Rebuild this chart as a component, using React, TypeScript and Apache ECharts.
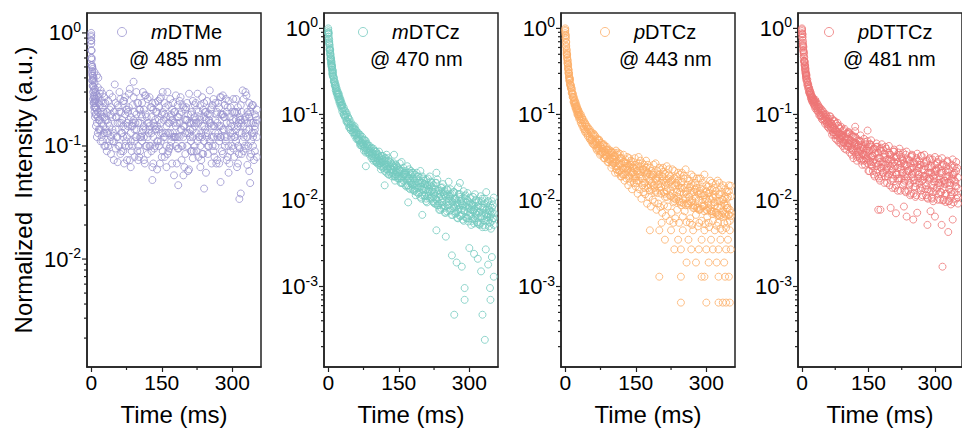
import React, { useEffect, useRef } from 'react';
import * as echarts from 'echarts';

const FONT = 'Liberation Sans, Arial, sans-serif';

const TIME = [
  0, 1, 2, 3, 4, 5, 6, 7, 8, 9,
  10, 12, 14, 16, 18, 20, 22, 24, 26, 28,
  30, 33, 36, 39, 42, 45, 48, 52, 56, 60,
  64, 68, 72, 76, 80, 84, 88, 92, 96, 100,
  104, 108, 112, 116, 120, 124, 128, 132, 136, 140,
  144, 148, 152, 156, 160, 164, 168, 172, 176, 180,
  184, 188, 192, 196, 200, 204, 208, 212, 216, 220,
  224, 228, 232, 236, 240, 244, 248, 252, 256, 260,
  264, 268, 272, 276, 280, 284, 288, 292, 296, 300,
  304, 308, 312, 316, 320, 324, 328, 332, 336, 340,
  344, 348, 352,
];
// second, interleaved set of read-out times (tail region)
const TIME_B = [
  54, 58, 62, 66, 70, 74, 78, 82, 86, 90,
  94, 98, 102, 106, 110, 114, 118, 122, 126, 130,
  134, 138, 142, 146, 150, 154, 158, 162, 166, 170,
  174, 178, 182, 186, 190, 194, 198, 202, 206, 210,
  214, 218, 222, 226, 230, 234, 238, 242, 246, 250,
  254, 258, 262, 266, 270, 274, 278, 282, 286, 290,
  294, 298, 302, 306, 310, 314, 318, 322, 326, 330,
  334, 338, 342, 346, 350,
];

const NAMES = ['mDTMe', 'mDTCz', 'pDTCz', 'pDTTCz'];
const WAVELENGTHS = ['@ 485 nm', '@ 470 nm', '@ 443 nm', '@ 481 nm'];
const COLORS = ['#9a94d0', '#74cbbf', '#fdae66', '#ee7676'];

// ---- mDTMe ----
const MDTME_A = [
  1.0, 0.7, 0.5, 0.42, 0.3, 0.33, 0.27, 0.36, 0.22, 0.3,
  0.19, 0.28, 0.13, 0.24, 0.17, 0.31, 0.12, 0.22, 0.15, 0.27,
  0.1, 0.2, 0.13, 0.29, 0.085, 0.18, 0.11, 0.24, 0.072, 0.16,
  0.2, 0.09, 0.27, 0.12, 0.17, 0.065, 0.23, 0.14, 0.3, 0.1,
  0.16, 0.24, 0.075, 0.19, 0.12, 0.27, 0.09, 0.21, 0.14, 0.062,
  0.22, 0.11, 0.3, 0.08, 0.18, 0.13, 0.26, 0.07, 0.2, 0.12,
  0.095, 0.25, 0.14, 0.055, 0.21, 0.1, 0.29, 0.16, 0.078, 0.23,
  0.13, 0.2, 0.065, 0.27, 0.11, 0.17, 0.085, 0.31, 0.15, 0.09,
  0.24, 0.12, 0.07, 0.19, 0.28, 0.1, 0.16, 0.058, 0.22, 0.13,
  0.08, 0.26, 0.15, 0.095, 0.2, 0.12, 0.3, 0.068, 0.18, 0.11,
  0.23, 0.09, 0.17,
];
const MDTME_B = [
  0.92, 0.6, 0.38, 0.48, 0.26, 0.4, 0.22, 0.28, 0.32, 0.19,
  0.26, 0.16, 0.33, 0.14, 0.23, 0.11, 0.2, 0.29, 0.13, 0.18,
  0.24, 0.09, 0.16, 0.21, 0.12, 0.27, 0.075, 0.14, 0.23, 0.1,
  0.13, 0.25, 0.1, 0.16, 0.29, 0.11, 0.15, 0.08, 0.19, 0.24,
  0.09, 0.13, 0.21, 0.1, 0.26, 0.15, 0.18, 0.07, 0.24, 0.11,
  0.14, 0.27, 0.09, 0.19, 0.065, 0.23, 0.1, 0.17, 0.12, 0.28,
  0.18, 0.12, 0.075, 0.22, 0.13, 0.17, 0.062, 0.11, 0.25, 0.15,
  0.21, 0.08, 0.17, 0.12, 0.24, 0.058, 0.19, 0.11, 0.07, 0.26,
  0.1, 0.2, 0.15, 0.27, 0.085, 0.18, 0.12, 0.25, 0.09, 0.17,
  0.2, 0.11, 0.07, 0.18, 0.13, 0.26, 0.095, 0.16, 0.06, 0.22,
  0.12, 0.19, 0.08,
];
const MDTME_C = [
  0.8, 0.52, 0.44, 0.34, 0.4, 0.24, 0.31, 0.2, 0.26, 0.24,
  0.15, 0.21, 0.18, 0.27, 0.14, 0.19, 0.25, 0.11, 0.2, 0.13,
  0.17, 0.13, 0.25, 0.11, 0.19, 0.14, 0.2, 0.095, 0.16, 0.3,
  0.09, 0.15, 0.19, 0.075, 0.22, 0.13, 0.1, 0.2, 0.12, 0.16,
  0.21, 0.11, 0.15, 0.28, 0.085, 0.14, 0.22, 0.12, 0.17, 0.2,
  0.1, 0.16, 0.13, 0.24, 0.15, 0.09, 0.18, 0.21, 0.055, 0.15,
  0.23, 0.16, 0.2, 0.12, 0.085, 0.24, 0.13, 0.19, 0.14, 0.1,
  0.09, 0.16, 0.23, 0.085, 0.15, 0.2, 0.13, 0.16, 0.22, 0.12,
  0.17, 0.075, 0.22, 0.12, 0.14, 0.23, 0.075, 0.14, 0.16, 0.2,
  0.15, 0.17, 0.22, 0.13, 0.085, 0.15, 0.18, 0.12, 0.24, 0.085,
  0.16, 0.14, 0.21,
];
const MDTME_D = [
  0.86, 0.58, 0.46, 0.38, 0.34, 0.28, 0.24, 0.25, 0.18, 0.22,
  0.22, 0.12, 0.2, 0.17, 0.29, 0.14, 0.16, 0.18, 0.24, 0.1,
  0.14, 0.17, 0.1, 0.15, 0.22, 0.11, 0.13, 0.18, 0.12, 0.2,
  0.16, 0.12, 0.14, 0.21, 0.1, 0.18, 0.16, 0.11, 0.14, 0.075,
  0.12, 0.18, 0.12, 0.14, 0.16, 0.1, 0.13, 0.16, 0.1, 0.15,
  0.17, 0.13, 0.2, 0.12, 0.1, 0.16, 0.13, 0.12, 0.16, 0.1,
  0.12, 0.19, 0.1, 0.15, 0.17, 0.13, 0.16, 0.09, 0.12, 0.18,
  0.16, 0.12, 0.1, 0.15, 0.18, 0.13, 0.1, 0.19, 0.12, 0.15,
  0.13, 0.16, 0.11, 0.15, 0.19, 0.12, 0.2, 0.1, 0.13, 0.1,
  0.12, 0.14, 0.1, 0.17, 0.16, 0.09, 0.13, 0.2, 0.14, 0.16,
  0.1, 0.15, 0.12,
];
const MDTME_E = [
  0.18, 0.1, 0.26, 0.13, 0.07, 0.21, 0.15, 0.32, 0.09, 0.17,
  0.12, 0.24, 0.08, 0.19, 0.14, 0.28, 0.1, 0.16, 0.22, 0.065,
  0.15, 0.2, 0.11, 0.26, 0.08, 0.17, 0.13, 0.3, 0.095, 0.19,
  0.24, 0.12, 0.07, 0.18, 0.27, 0.1, 0.15, 0.22, 0.06, 0.14,
  0.2, 0.09, 0.17, 0.29, 0.12, 0.075, 0.21, 0.14, 0.25, 0.1,
  0.16, 0.23, 0.08, 0.19, 0.13, 0.27, 0.09, 0.18, 0.11, 0.22,
  0.07, 0.15, 0.26, 0.12, 0.2, 0.085, 0.17, 0.31, 0.1, 0.14,
  0.19, 0.08, 0.23, 0.13, 0.16,
];
const MDTME_F = [
  0.12, 0.22, 0.085, 0.17, 0.25, 0.11, 0.2, 0.075, 0.15, 0.27,
  0.16, 0.09, 0.21, 0.12, 0.3, 0.07, 0.18, 0.13, 0.1, 0.24,
  0.095, 0.14, 0.25, 0.07, 0.19, 0.12, 0.22, 0.085, 0.16, 0.11,
  0.13, 0.2, 0.16, 0.095, 0.14, 0.23, 0.065, 0.17, 0.19, 0.12,
  0.09, 0.16, 0.24, 0.11, 0.18, 0.13, 0.085, 0.2, 0.12, 0.17,
  0.21, 0.1, 0.15, 0.07, 0.24, 0.12, 0.19, 0.14, 0.26, 0.08,
  0.18, 0.12, 0.095, 0.2, 0.065, 0.16, 0.23, 0.11, 0.17, 0.28,
  0.1, 0.2, 0.13, 0.075, 0.18,
];
const MDTME_EXTRA = [
  [0, 0.95], [0, 0.85], [0, 0.7], [0, 0.6], [1, 0.52], [2, 0.5], [3, 0.42], [5, 0.38],
  [7, 0.45], [12, 0.42], [15, 0.4], [50, 0.35], [90, 0.37], [185, 0.045], [240, 0.042],
  [315, 0.034], [318, 0.038], [130, 0.05], [275, 0.048], [338, 0.047],
];

// ---- mDTCz ----
const MDTCZ_A = [
  1.0, 0.86, 0.7, 0.6, 0.5, 0.47, 0.41, 0.39, 0.33, 0.31,
  0.3, 0.26, 0.22, 0.21, 0.18, 0.17, 0.16, 0.142, 0.14, 0.126,
  0.13, 0.1, 0.11, 0.085, 0.094, 0.071, 0.081, 0.062, 0.073, 0.052,
  0.061, 0.046, 0.055, 0.041, 0.049, 0.036, 0.043, 0.031, 0.04, 0.029,
  0.035, 0.026, 0.033, 0.024, 0.031, 0.021, 0.029, 0.025, 0.019, 0.027,
  0.022, 0.018, 0.027, 0.016, 0.024, 0.02, 0.015, 0.023, 0.017, 0.021,
  0.013, 0.021, 0.016, 0.011, 0.019, 0.014, 0.0105, 0.018, 0.0125, 0.016,
  0.0095, 0.016, 0.012, 0.0078, 0.014, 0.0105, 0.0072, 0.0135, 0.0088, 0.011,
  0.0068, 0.0125, 0.0085, 0.0062, 0.011, 0.0078, 0.0058, 0.0115, 0.0074, 0.0095,
  0.0052, 0.011, 0.0072, 0.0056, 0.0098, 0.0064, 0.0049, 0.0105, 0.0068, 0.0085,
  0.0055, 0.0098, 0.0071,
];
const MDTCZ_B = [
  0.9, 0.8, 0.74, 0.57, 0.55, 0.44, 0.43, 0.36, 0.36, 0.3,
  0.28, 0.24, 0.24, 0.19, 0.2, 0.16, 0.17, 0.137, 0.15, 0.12,
  0.115, 0.12, 0.092, 0.1, 0.078, 0.088, 0.066, 0.075, 0.057, 0.064,
  0.05, 0.058, 0.043, 0.051, 0.038, 0.045, 0.034, 0.041, 0.029, 0.037,
  0.028, 0.037, 0.023, 0.03, 0.026, 0.034, 0.02, 0.028, 0.023, 0.019,
  0.026, 0.019, 0.022, 0.028, 0.017, 0.021, 0.025, 0.014, 0.02, 0.018,
  0.02, 0.015, 0.012, 0.022, 0.0135, 0.017, 0.0098, 0.015, 0.019, 0.011,
  0.015, 0.0092, 0.0175, 0.011, 0.0082, 0.0155, 0.0115, 0.0095, 0.0165, 0.0077,
  0.012, 0.0075, 0.0105, 0.0142, 0.0066, 0.0092, 0.0128, 0.0064, 0.0101, 0.0082,
  0.0092, 0.0061, 0.0118, 0.0075, 0.0053, 0.0112, 0.0082, 0.0059, 0.0125, 0.0071,
  0.0088, 0.0058, 0.0108,
];
const MDTCZ_C = [
  0.95, 0.76, 0.66, 0.64, 0.52, 0.5, 0.39, 0.41, 0.35, 0.33,
  0.32, 0.245, 0.215, 0.22, 0.175, 0.185, 0.15, 0.16, 0.128, 0.138,
  0.108, 0.112, 0.1, 0.082, 0.09, 0.078, 0.07, 0.068, 0.062, 0.058,
  0.055, 0.049, 0.047, 0.038, 0.045, 0.04, 0.038, 0.035, 0.035, 0.032,
  0.031, 0.029, 0.027, 0.033, 0.022, 0.025, 0.031, 0.021, 0.026, 0.024,
  0.019, 0.024, 0.018, 0.022, 0.02, 0.015, 0.019, 0.021, 0.016, 0.0135,
  0.017, 0.0125, 0.019, 0.0145, 0.016, 0.0115, 0.0175, 0.013, 0.0105, 0.0145,
  0.0125, 0.0105, 0.0088, 0.013, 0.0112, 0.0125, 0.0085, 0.0118, 0.0105, 0.0135,
  0.0095, 0.0105, 0.0072, 0.0088, 0.0118, 0.0068, 0.0098, 0.0085, 0.0122, 0.0066,
  0.0078, 0.0088, 0.0062, 0.0095, 0.0072, 0.0085, 0.0105, 0.0066, 0.0078, 0.0058,
  0.0075, 0.0082, 0.0062,
];
const MDTCZ_D = [
  0.87, 0.9, 0.68, 0.56, 0.57, 0.45, 0.45, 0.37, 0.37, 0.29,
  0.275, 0.27, 0.23, 0.2, 0.19, 0.175, 0.175, 0.15, 0.145, 0.13,
  0.125, 0.099, 0.095, 0.104, 0.082, 0.07, 0.076, 0.071, 0.067, 0.06,
  0.052, 0.044, 0.05, 0.045, 0.036, 0.043, 0.036, 0.033, 0.031, 0.034,
  0.027, 0.032, 0.025, 0.028, 0.029, 0.023, 0.025, 0.023, 0.021, 0.025,
  0.02, 0.021, 0.023, 0.018, 0.019, 0.022, 0.017, 0.018, 0.022, 0.015,
  0.014, 0.018, 0.014, 0.016, 0.0115, 0.0155, 0.0135, 0.0112, 0.015, 0.0128,
  0.011, 0.0135, 0.0098, 0.0092, 0.0125, 0.0088, 0.0128, 0.0075, 0.0098, 0.0118,
  0.0105, 0.0082, 0.0095, 0.0078, 0.0088, 0.0105, 0.0076, 0.0105, 0.0062, 0.0088,
  0.0066, 0.0076, 0.0095, 0.0068, 0.0088, 0.0055, 0.0072, 0.0092, 0.0058, 0.0098,
  0.0064, 0.0072, 0.0052,
];
const MDTCZ_E = [
  0.07, 0.058, 0.06, 0.05, 0.047, 0.045, 0.05, 0.039, 0.041, 0.037,
  0.033, 0.038, 0.028, 0.034, 0.03, 0.028, 0.025, 0.031, 0.023, 0.022,
  0.027, 0.021, 0.019, 0.025, 0.018, 0.022, 0.016, 0.02, 0.019, 0.015,
  0.017, 0.021, 0.013, 0.016, 0.019, 0.0125, 0.0145, 0.018, 0.0112, 0.015,
  0.0135, 0.0165, 0.0098, 0.012, 0.016, 0.0088, 0.0118, 0.0142, 0.0082, 0.011,
  0.0132, 0.0076, 0.0098, 0.0125, 0.007, 0.0092, 0.0118, 0.0066, 0.0088, 0.0112,
  0.0062, 0.0082, 0.0108, 0.0058, 0.0078, 0.0102, 0.0055, 0.0074, 0.0098, 0.0052,
  0.0071, 0.0095, 0.005, 0.0068, 0.0088,
];
const MDTCZ_F = [
  0.062, 0.067, 0.053, 0.058, 0.044, 0.05, 0.042, 0.045, 0.036, 0.04,
  0.036, 0.031, 0.037, 0.029, 0.027, 0.033, 0.024, 0.027, 0.028, 0.02,
  0.023, 0.025, 0.017, 0.021, 0.023, 0.016, 0.019, 0.021, 0.0145, 0.018,
  0.0135, 0.0155, 0.018, 0.0115, 0.014, 0.017, 0.0105, 0.0132, 0.0155, 0.0095,
  0.0118, 0.0108, 0.0135, 0.0092, 0.0102, 0.013, 0.0078, 0.0095, 0.0118, 0.0072,
  0.0088, 0.0112, 0.0068, 0.0085, 0.0105, 0.0063, 0.008, 0.0098, 0.006, 0.0076,
  0.0094, 0.0057, 0.0072, 0.0088, 0.0054, 0.007, 0.0085, 0.0052, 0.0066, 0.0082,
  0.0049, 0.0064, 0.0078, 0.0047, 0.0062,
];
const MDTCZ_EXTRA = [
  [263, 0.0023], [273, 0.0019], [284, 0.0017], [290, 0.00096], [290, 0.0007], [344, 0.00096],
  [345, 0.0007], [268, 0.00047], [328, 0.00047], [333, 0.00024], [230, 0.0045], [250, 0.0038],
  [300, 0.0028], [310, 0.0024], [318, 0.0021], [325, 0.0015], [335, 0.0027], [340, 0.0018],
  [348, 0.0022], [352, 0.0013], [200, 0.0068], [170, 0.0095], [120, 0.015], [80, 0.025],
  [140, 0.034], [230, 0.021], [280, 0.016],
];

// ---- pDTCz ----
const PDTCZ_A = [
  1.0, 0.82, 0.63, 0.57, 0.45, 0.42, 0.35, 0.33, 0.28, 0.27,
  0.25, 0.2, 0.19, 0.158, 0.155, 0.132, 0.133, 0.114, 0.115, 0.099,
  0.105, 0.086, 0.088, 0.072, 0.077, 0.064, 0.068, 0.055, 0.058, 0.048,
  0.056, 0.041, 0.05, 0.037, 0.045, 0.034, 0.042, 0.03, 0.038, 0.028,
  0.036, 0.025, 0.034, 0.022, 0.031, 0.02, 0.03, 0.024, 0.019, 0.029,
  0.021, 0.031, 0.017, 0.027, 0.022, 0.015, 0.026, 0.019, 0.014, 0.024,
  0.016, 0.026, 0.013, 0.022, 0.018, 0.012, 0.024, 0.015, 0.011, 0.02,
  0.013, 0.023, 0.0105, 0.019, 0.015, 0.0095, 0.021, 0.012, 0.0088, 0.018,
  0.011, 0.02, 0.0088, 0.016, 0.0125, 0.0078, 0.018, 0.0102, 0.0075, 0.015,
  0.0095, 0.017, 0.0075, 0.014, 0.011, 0.0068, 0.016, 0.0088, 0.0064, 0.0135,
  0.0082, 0.015, 0.0066,
];
const PDTCZ_B = [
  0.93, 0.76, 0.68, 0.52, 0.49, 0.39, 0.38, 0.3, 0.3, 0.245,
  0.23, 0.22, 0.175, 0.172, 0.142, 0.143, 0.122, 0.124, 0.105, 0.108,
  0.092, 0.095, 0.078, 0.082, 0.067, 0.072, 0.06, 0.063, 0.051, 0.056,
  0.045, 0.052, 0.04, 0.047, 0.036, 0.043, 0.032, 0.039, 0.029, 0.036,
  0.027, 0.038, 0.025, 0.031, 0.021, 0.034, 0.027, 0.022, 0.031, 0.02,
  0.028, 0.018, 0.024, 0.032, 0.019, 0.023, 0.016, 0.029, 0.021, 0.017,
  0.022, 0.015, 0.027, 0.019, 0.014, 0.023, 0.017, 0.012, 0.025, 0.016,
  0.019, 0.012, 0.022, 0.016, 0.011, 0.02, 0.014, 0.0092, 0.023, 0.013,
  0.017, 0.0095, 0.019, 0.0135, 0.0082, 0.018, 0.012, 0.0085, 0.02, 0.0105,
  0.0145, 0.0078, 0.016, 0.0118, 0.0072, 0.017, 0.0098, 0.0068, 0.015, 0.0088,
  0.0125, 0.0068, 0.0148,
];
const PDTCZ_C = [
  0.96, 0.78, 0.61, 0.55, 0.5, 0.43, 0.34, 0.31, 0.3, 0.26,
  0.26, 0.205, 0.2, 0.16, 0.16, 0.128, 0.138, 0.11, 0.118, 0.096,
  0.088, 0.1, 0.074, 0.086, 0.063, 0.075, 0.056, 0.067, 0.05, 0.06,
  0.05, 0.038, 0.051, 0.035, 0.044, 0.031, 0.039, 0.028, 0.036, 0.026,
  0.03, 0.023, 0.036, 0.026, 0.019, 0.028, 0.024, 0.032, 0.018, 0.026,
  0.024, 0.02, 0.016, 0.025, 0.029, 0.018, 0.021, 0.024, 0.015, 0.02,
  0.019, 0.02, 0.0125, 0.017, 0.024, 0.0145, 0.019, 0.0205, 0.0128, 0.018,
  0.0165, 0.0175, 0.0098, 0.0135, 0.021, 0.0125, 0.0165, 0.018, 0.0105, 0.0152,
  0.014, 0.0155, 0.0082, 0.0112, 0.018, 0.0102, 0.0138, 0.016, 0.0088, 0.0128,
  0.012, 0.0132, 0.007, 0.0095, 0.0155, 0.0085, 0.0118, 0.0142, 0.0075, 0.011,
  0.0105, 0.0128, 0.0072,
];
const PDTCZ_D = [
  0.88, 0.84, 0.7, 0.5, 0.46, 0.4, 0.37, 0.33, 0.27, 0.25,
  0.22, 0.215, 0.18, 0.175, 0.138, 0.147, 0.118, 0.127, 0.1, 0.112,
  0.1, 0.08, 0.092, 0.068, 0.08, 0.06, 0.071, 0.052, 0.062, 0.045,
  0.048, 0.046, 0.038, 0.042, 0.04, 0.037, 0.034, 0.036, 0.031, 0.031,
  0.033, 0.028, 0.021, 0.035, 0.027, 0.023, 0.02, 0.027, 0.025, 0.022,
  0.018, 0.026, 0.022, 0.017, 0.025, 0.027, 0.014, 0.022, 0.026, 0.013,
  0.0135, 0.021, 0.0175, 0.0122, 0.02, 0.016, 0.0215, 0.011, 0.0175, 0.023,
  0.0112, 0.0145, 0.018, 0.0102, 0.017, 0.014, 0.0095, 0.0195, 0.0128, 0.0092,
  0.0098, 0.0122, 0.015, 0.0085, 0.014, 0.0118, 0.008, 0.0145, 0.0115, 0.0078,
  0.0082, 0.0105, 0.0135, 0.0074, 0.0128, 0.0098, 0.0066, 0.0125, 0.0102, 0.007,
  0.0088, 0.0068, 0.0112,
];
const PDTCZ_E = [
  0.05, 0.046, 0.044, 0.04, 0.043, 0.034, 0.036, 0.031, 0.033, 0.028,
  0.03, 0.024, 0.027, 0.021, 0.023, 0.022, 0.019, 0.02, 0.017, 0.018,
  0.015, 0.0165, 0.0135, 0.016, 0.0145, 0.012, 0.0135, 0.0105, 0.0125, 0.0118,
  0.0092, 0.011, 0.0085, 0.0102, 0.0096, 0.0078, 0.0092, 0.0084, 0.0072, 0.0088,
  0.0066, 0.0085, 0.0058, 0.0072, 0.0095, 0.0062, 0.0078, 0.0055, 0.0088, 0.0065,
  0.0075, 0.0056, 0.0092, 0.0062, 0.0052, 0.0082, 0.0068, 0.005, 0.0078, 0.0058,
  0.0086, 0.0053, 0.0065, 0.0049, 0.0075, 0.0058, 0.0088, 0.0051, 0.0068, 0.0047,
  0.0072, 0.0055, 0.0048, 0.0082, 0.0058,
];
const PDTCZ_F = [
  0.062, 0.052, 0.058, 0.047, 0.05, 0.044, 0.04, 0.045, 0.036, 0.038,
  0.034, 0.037, 0.03, 0.033, 0.029, 0.027, 0.031, 0.024, 0.028, 0.025,
  0.023, 0.026, 0.021, 0.024, 0.019, 0.022, 0.02, 0.018, 0.023, 0.016,
  0.021, 0.017, 0.015, 0.02, 0.014, 0.018, 0.0155, 0.013, 0.019, 0.0125,
  0.016, 0.014, 0.0115, 0.017, 0.0108, 0.015, 0.0125, 0.0098, 0.016, 0.0105,
  0.014, 0.0118, 0.0088, 0.0145, 0.01, 0.0125, 0.0108, 0.0082, 0.013, 0.0094,
  0.0115, 0.0102, 0.0076, 0.0122, 0.0088, 0.0108, 0.0095, 0.0072, 0.0118, 0.0082,
  0.0102, 0.0092, 0.0068, 0.011, 0.0078,
];
const PDTCZ_EXTRA = [
  [180, 0.0045], [200, 0.0045], [212, 0.0035], [225, 0.0045], [232, 0.0027], [240, 0.0035],
  [246, 0.0027], [250, 0.0045], [258, 0.0019], [262, 0.0035], [268, 0.0027], [272, 0.0045],
  [278, 0.0019], [284, 0.0027], [290, 0.0035], [296, 0.0045], [300, 0.0027], [305, 0.0019],
  [310, 0.0035], [314, 0.0027], [318, 0.0045], [322, 0.0019], [326, 0.0027], [330, 0.0035],
  [334, 0.0045], [338, 0.0019], [342, 0.0027], [346, 0.0035], [350, 0.0045], [352, 0.0027],
  [200, 0.0013], [246, 0.0013], [290, 0.0013], [296, 0.0013], [326, 0.0013], [340, 0.0013],
  [348, 0.0013], [246, 0.00065], [300, 0.00065], [326, 0.00065], [335, 0.00065], [342, 0.00065],
  [350, 0.00065], [205, 0.0055], [230, 0.0055], [265, 0.0055], [285, 0.0055], [305, 0.0055],
  [325, 0.0055], [345, 0.0055],
];

// ---- pDTTCz ----
const PDTTCZ_A = [
  1.0, 0.85, 0.65, 0.6, 0.47, 0.46, 0.37, 0.37, 0.3, 0.3,
  0.28, 0.22, 0.225, 0.18, 0.19, 0.155, 0.165, 0.138, 0.15, 0.126,
  0.148, 0.112, 0.13, 0.098, 0.118, 0.088, 0.108, 0.078, 0.095, 0.07,
  0.095, 0.058, 0.085, 0.052, 0.08, 0.047, 0.072, 0.043, 0.068, 0.039,
  0.062, 0.036, 0.058, 0.031, 0.055, 0.029, 0.05, 0.038, 0.026, 0.052,
  0.03, 0.049, 0.022, 0.044, 0.033, 0.019, 0.046, 0.026, 0.017, 0.041,
  0.021, 0.042, 0.016, 0.036, 0.025, 0.014, 0.039, 0.02, 0.013, 0.034,
  0.018, 0.036, 0.013, 0.03, 0.022, 0.0115, 0.034, 0.017, 0.011, 0.028,
  0.016, 0.033, 0.0115, 0.027, 0.019, 0.0105, 0.031, 0.015, 0.0098, 0.026,
  0.014, 0.03, 0.0102, 0.025, 0.017, 0.0096, 0.029, 0.0135, 0.009, 0.024,
  0.0125, 0.028, 0.0092,
];
const PDTTCZ_B = [
  0.93, 0.78, 0.72, 0.55, 0.53, 0.42, 0.41, 0.33, 0.34, 0.27,
  0.26, 0.255, 0.2, 0.205, 0.17, 0.178, 0.15, 0.158, 0.134, 0.145,
  0.125, 0.138, 0.108, 0.122, 0.098, 0.112, 0.09, 0.1, 0.078, 0.089,
  0.066, 0.088, 0.058, 0.078, 0.05, 0.07, 0.046, 0.064, 0.04, 0.06,
  0.042, 0.06, 0.034, 0.048, 0.064, 0.032, 0.044, 0.057, 0.03, 0.04,
  0.045, 0.027, 0.038, 0.05, 0.022, 0.035, 0.042, 0.019, 0.031, 0.045,
  0.038, 0.019, 0.03, 0.043, 0.017, 0.027, 0.037, 0.015, 0.024, 0.04,
  0.032, 0.015, 0.026, 0.037, 0.013, 0.023, 0.033, 0.012, 0.021, 0.035,
  0.029, 0.013, 0.023, 0.034, 0.0115, 0.021, 0.03, 0.0108, 0.019, 0.032,
  0.027, 0.0118, 0.021, 0.031, 0.0102, 0.019, 0.028, 0.0098, 0.0175, 0.03,
  0.025, 0.0105, 0.0185,
];
const PDTTCZ_C = [
  0.97, 0.8, 0.68, 0.62, 0.5, 0.42, 0.38, 0.36, 0.31, 0.28,
  0.29, 0.235, 0.21, 0.2, 0.176, 0.163, 0.16, 0.145, 0.14, 0.14,
  0.14, 0.12, 0.122, 0.105, 0.11, 0.096, 0.1, 0.086, 0.088, 0.076,
  0.082, 0.068, 0.07, 0.058, 0.063, 0.053, 0.058, 0.048, 0.054, 0.044,
  0.052, 0.046, 0.039, 0.055, 0.036, 0.045, 0.033, 0.049, 0.042, 0.029,
  0.038, 0.033, 0.045, 0.026, 0.039, 0.03, 0.021, 0.036, 0.04, 0.024,
  0.032, 0.026, 0.021, 0.03, 0.034, 0.02, 0.028, 0.032, 0.018, 0.026,
  0.027, 0.021, 0.017, 0.026, 0.03, 0.016, 0.024, 0.028, 0.0145, 0.022,
  0.024, 0.018, 0.014, 0.023, 0.028, 0.0135, 0.021, 0.025, 0.0125, 0.02,
  0.022, 0.016, 0.0125, 0.021, 0.026, 0.012, 0.019, 0.023, 0.0112, 0.018,
  0.021, 0.0145, 0.0108,
];
const PDTTCZ_D = [
  0.88, 0.86, 0.63, 0.56, 0.52, 0.41, 0.4, 0.34, 0.32, 0.29,
  0.25, 0.24, 0.22, 0.185, 0.185, 0.17, 0.145, 0.155, 0.146, 0.13,
  0.118, 0.13, 0.115, 0.118, 0.095, 0.105, 0.085, 0.094, 0.082, 0.084,
  0.072, 0.077, 0.062, 0.066, 0.057, 0.06, 0.052, 0.055, 0.047, 0.052,
  0.046, 0.05, 0.044, 0.038, 0.047, 0.04, 0.036, 0.041, 0.035, 0.034,
  0.034, 0.04, 0.029, 0.032, 0.028, 0.04, 0.025, 0.031, 0.028, 0.019,
  0.026, 0.034, 0.024, 0.02, 0.029, 0.023, 0.032, 0.021, 0.028, 0.018,
  0.023, 0.029, 0.019, 0.021, 0.017, 0.027, 0.02, 0.024, 0.016, 0.025,
  0.02, 0.026, 0.017, 0.019, 0.015, 0.024, 0.018, 0.021, 0.014, 0.022,
  0.018, 0.024, 0.015, 0.0165, 0.0135, 0.022, 0.016, 0.0195, 0.0125, 0.02,
  0.017, 0.022, 0.0138,
];
const PDTTCZ_E = [
  0.09, 0.072, 0.078, 0.07, 0.062, 0.066, 0.058, 0.06, 0.052, 0.055,
  0.047, 0.05, 0.043, 0.046, 0.041, 0.038, 0.043, 0.034, 0.037, 0.031,
  0.029, 0.034, 0.026, 0.031, 0.022, 0.028, 0.025, 0.02, 0.027, 0.023,
  0.018, 0.024, 0.021, 0.016, 0.023, 0.019, 0.015, 0.022, 0.018, 0.014,
  0.02, 0.017, 0.013, 0.021, 0.016, 0.0125, 0.019, 0.015, 0.012, 0.0185,
  0.0145, 0.0115, 0.018, 0.014, 0.011, 0.0175, 0.0135, 0.0108, 0.017, 0.013,
  0.0105, 0.0165, 0.0128, 0.0102, 0.016, 0.0125, 0.01, 0.0155, 0.012, 0.0098,
  0.015, 0.0118, 0.0095, 0.0148, 0.0115,
];
const PDTTCZ_F = [
  0.1, 0.082, 0.095, 0.078, 0.07, 0.083, 0.064, 0.074, 0.068, 0.058,
  0.066, 0.055, 0.06, 0.062, 0.05, 0.056, 0.046, 0.053, 0.043, 0.049,
  0.044, 0.04, 0.048, 0.036, 0.042, 0.045, 0.033, 0.04, 0.036, 0.042,
  0.031, 0.038, 0.028, 0.035, 0.04, 0.027, 0.034, 0.03, 0.037, 0.025,
  0.032, 0.036, 0.024, 0.03, 0.027, 0.034, 0.022, 0.029, 0.032, 0.021,
  0.027, 0.031, 0.02, 0.026, 0.033, 0.019, 0.025, 0.029, 0.0185, 0.024,
  0.03, 0.018, 0.023, 0.028, 0.0175, 0.022, 0.027, 0.017, 0.025, 0.0215,
  0.016, 0.026, 0.02, 0.0165, 0.024,
];
const PDTTCZ_EXTRA = [
  [148, 0.065], [120, 0.072], [172, 0.0078], [177, 0.0078], [212, 0.0071], [236, 0.0065],
  [251, 0.006], [283, 0.0052], [315, 0.0052], [330, 0.0043], [317, 0.0017], [200, 0.0082],
  [260, 0.0072], [300, 0.0065], [340, 0.006], [230, 0.0085], [290, 0.0075],
];

const SERIES_ARRAYS = [
  [MDTME_A, MDTME_B, MDTME_C, MDTME_D],
  [MDTCZ_A, MDTCZ_B, MDTCZ_C, MDTCZ_D],
  [PDTCZ_A, PDTCZ_B, PDTCZ_C, PDTCZ_D],
  [PDTTCZ_A, PDTTCZ_B, PDTTCZ_C, PDTTCZ_D],
];
const SERIES_ARRAYS_B = [
  [MDTME_E, MDTME_F],
  [MDTCZ_E, MDTCZ_F],
  [PDTCZ_E, PDTCZ_F],
  [PDTTCZ_E, PDTTCZ_F],
];
const SERIES_EXTRA = [MDTME_EXTRA, MDTCZ_EXTRA, PDTCZ_EXTRA, PDTTCZ_EXTRA];

// axes
const X_MIN = -9;
const X_MAX = 361;
const X_TICKS = [0, 150, 300];
const X_MINOR_TICKS = [75, 225];
const Y_RANGES = [
  [0.00111, 1.5],
  [0.000116, 1.51],
  [0.000116, 1.51],
  [0.000116, 1.51],
];
const Y_MAJOR_TICKS = [1, 0.1, 0.01, 0.001];
const Y_MINOR_MANTISSA = [2, 3, 4, 5, 6, 7, 8, 9];
const Y_DECADES = [0.0001, 0.001, 0.01, 0.1];

// layout
const GRID_LEFTS = [87, 324, 561, 798];
const GRID_TOP = 13;
const GRID_W = 174;
const GRID_H = 354;
const LEGEND_LEFTS = [117, 358, 600, 824];
const WL_LEFTS = [129, 370, 619, 843];

const AXIS_COLOR = '#222';

function supLabel(value: number) {
  const lg = Math.log10(value);
  const e = Math.round(lg);
  if (Math.abs(lg - e) > 1e-6) return '';
  const s = e < 0 ? '-' + Math.abs(e) : String(e);
  return '{b|10}{s|' + s + '}';
}

export default function App() {
  const ref = useRef<HTMLDivElement>(null);
  useEffect(() => {
    document.body.style.margin = '0';
    if (!ref.current) return;
    const chart = echarts.init(ref.current, undefined, { renderer: 'svg' });

    const grid: any[] = [];
    const xAxis: any[] = [];
    const yAxis: any[] = [];
    const series: any[] = [];
    const legend: any[] = [];
    const graphic: any[] = [];

    for (let i = 0; i < 4; i++) {
      const [yMin, yMax] = Y_RANGES[i];
      grid.push({
        left: GRID_LEFTS[i], top: GRID_TOP, width: GRID_W, height: GRID_H,
        show: true, borderColor: AXIS_COLOR, borderWidth: 1.5, backgroundColor: 'transparent',
      });
      xAxis.push({
        type: 'value', gridIndex: i, min: X_MIN, max: X_MAX,
        axisLine: { show: true, onZero: false, lineStyle: { color: AXIS_COLOR, width: 1.5 } },
        axisTick: { show: true, inside: false, length: 5, customValues: X_TICKS, lineStyle: { color: AXIS_COLOR, width: 1.2 } },
        axisLabel: { customValues: X_TICKS, fontSize: 21, fontFamily: FONT, color: '#000', margin: 5 },
        splitLine: { show: false },
        name: 'Time (ms)', nameLocation: 'middle', nameGap: 35,
        nameTextStyle: { fontSize: 24, fontFamily: FONT, color: '#000' },
      });
      yAxis.push({
        type: 'log', logBase: 10, gridIndex: i, min: yMin, max: yMax,
        axisLine: { show: true, onZero: false, lineStyle: { color: AXIS_COLOR, width: 1.5 } },
        axisTick: { show: false },
        splitLine: { show: false },
        axisLabel: {
          formatter: (v: number) => supLabel(v), margin: 6, color: '#000',
          rich: {
            b: { fontSize: 22, fontFamily: FONT, color: '#000', lineHeight: 26 },
            s: { fontSize: 14, fontFamily: FONT, color: '#000', verticalAlign: 'top', lineHeight: 14 },
          },
        },
        name: i === 0 ? 'Normalized  Intensity (a.u.)' : '',
        nameLocation: 'middle', nameGap: 52,
        nameTextStyle: { fontSize: 24, fontFamily: FONT, color: '#000' },
      });

      const data: number[][] = [];
      SERIES_ARRAYS[i].forEach((arr) => {
        TIME.forEach((t, k) => data.push([t, arr[k]]));
      });
      SERIES_ARRAYS_B[i].forEach((arr) => {
        TIME_B.forEach((t, k) => data.push([t, arr[k]]));
      });
      SERIES_EXTRA[i].forEach((p) => data.push([p[0], p[1]]));

      series.push({
        type: 'scatter', name: NAMES[i], xAxisIndex: i, yAxisIndex: i,
        data, symbol: 'circle', symbolSize: 7,
        itemStyle: { color: 'transparent', borderColor: COLORS[i], borderWidth: 1 },
        emphasis: { disabled: true },
        silent: true,
      });

      // tick marks drawn through the axis scales
      const tickData: number[][] = [];
      Y_MAJOR_TICKS.forEach((v) => { if (v >= yMin && v <= yMax) tickData.push([X_MIN, v, 5, 0]); });
      Y_DECADES.forEach((d) => Y_MINOR_MANTISSA.forEach((m) => {
        const v = d * m;
        if (v >= yMin && v <= yMax) tickData.push([X_MIN, v, 3, 0]);
      }));
      X_MINOR_TICKS.forEach((v) => tickData.push([v, yMin, 3, 1]));
      series.push({
        type: 'custom', xAxisIndex: i, yAxisIndex: i, silent: true, clip: false,
        data: tickData,
        renderItem: (params: any, api: any) => {
          const p = api.coord([api.value(0), api.value(1)]);
          const len = api.value(2);
          const kind = api.value(3);
          const shape = kind === 0
            ? { x1: p[0] - len, y1: p[1], x2: p[0], y2: p[1] }
            : { x1: p[0], y1: p[1], x2: p[0], y2: p[1] + len };
          return { type: 'line', shape, style: { stroke: AXIS_COLOR, lineWidth: 1.2 } };
        },
      });

      legend.push({
        show: true, left: LEGEND_LEFTS[i], top: 22, padding: 0,
        data: [NAMES[i]], itemWidth: 48, itemHeight: 9,
        icon: 'circle',
        itemStyle: { color: 'transparent', borderColor: COLORS[i], borderWidth: 1 },
        formatter: (name: string) => '{i|' + name.charAt(0) + '}' + name.slice(1),
        textStyle: {
          fontSize: 20, fontFamily: FONT, color: '#000',
          rich: { i: { fontSize: 20, fontFamily: FONT, fontStyle: 'italic', color: '#000' } },
        },
        selectedMode: false,
      });

      graphic.push({
        type: 'text', left: WL_LEFTS[i], top: 49,
        style: { text: WAVELENGTHS[i], fontSize: 20, fontFamily: FONT, fill: '#000' },
      });
    }

    chart.setOption({
      animation: false,
      backgroundColor: '#fff',
      grid, xAxis, yAxis, series, legend, graphic,
    });
    return () => chart.dispose();
  }, []);
  return <div ref={ref} style={{ width: 962, height: 434 }} />;
}
